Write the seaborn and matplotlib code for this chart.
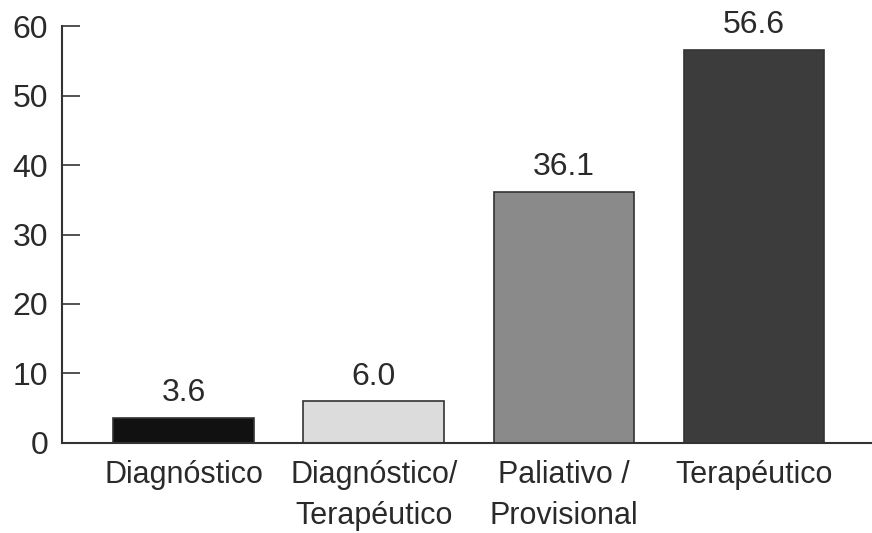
import matplotlib
matplotlib.use("Agg")
import matplotlib.pyplot as plt
import seaborn as sns
import pandas as pd

categories = ["Diagnóstico", "Diagnóstico/\nTerapéutico", "Paliativo /\nProvisional", "Terapéutico"]
values = [3.6, 6.0, 36.1, 56.6]
value_labels = ["3.6", "6.0", "36.1", "56.6"]
colors = ["#111111", "#dcdcdc", "#8a8a8a", "#3c3c3c"]
yticks = [0, 10, 20, 30, 40, 50, 60]

sns.set_theme(style="white")
plt.rcParams["font.family"] = ["Liberation Sans", "DejaVu Sans"]

df = pd.DataFrame({"cat": categories, "val": values})

fig = plt.figure(figsize=(8.72, 5.33), dpi=100)
ax = fig.add_axes([0.071, 0.169, 0.929, 0.782])

sns.barplot(data=df, x="cat", y="val", hue="cat", palette=colors, order=categories,
            hue_order=categories, width=0.74, edgecolor="#333333", linewidth=1.2,
            legend=False, ax=ax, saturation=1)

for i, (v, lab) in enumerate(zip(values, value_labels)):
    ax.text(i, v + 1.4, lab, ha="center", va="bottom", fontsize=23, color="#2a2a2a", clip_on=False)

ax.set_xlim(-0.64, 3.62)
ax.set_ylim(0, 60)
ax.set_yticks(yticks)
ax.set_yticklabels([str(t) for t in yticks], fontsize=23, color="#2a2a2a")
ax.tick_params(axis="y", direction="in", length=13, width=1.2, color="#333333", pad=10, left=True)
ax.tick_params(axis="x", length=0, labelsize=22, labelcolor="#2a2a2a", pad=12)
for lbl in ax.get_xticklabels():
    lbl.set_linespacing(1.5)
ax.set_xlabel("")
ax.set_ylabel("")
for s in ["top", "right"]:
    ax.spines[s].set_visible(False)
for s in ["left", "bottom"]:
    ax.spines[s].set_color("#333333")
    ax.spines[s].set_linewidth(1.5)

fig.savefig("out.png", dpi=100)
